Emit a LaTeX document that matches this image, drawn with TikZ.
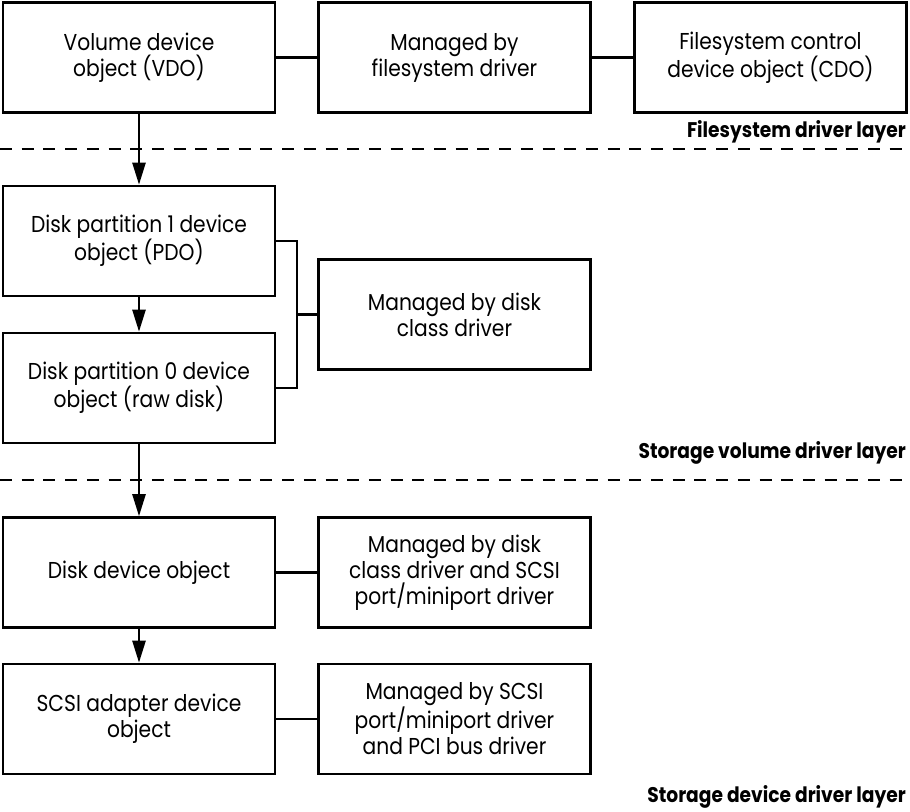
\documentclass[tikz,border=0pt]{standalone}
\usepackage{fontspec}
\setmainfont[FakeStretch=0.88]{Poppins}
\usetikzlibrary{arrows.meta}
\begin{document}
\begin{tikzpicture}[x=1pt,y=-1pt,
  box/.style={draw, line width=2.6pt, minimum width=272pt, minimum height=110pt,
    align=center, inner sep=0pt, font=\fontsize{23}{26}\selectfont},
  link/.style={line width=2.2pt},
  arr/.style={line width=2.4pt, -{Triangle[length=22pt,width=13pt]}},
  layer/.style={anchor=base east, inner sep=0pt, font=\fontsize{21.2}{24}\selectfont\bfseries},
  sep/.style={line width=2.6pt, dash pattern=on 12pt off 9.7pt}]
\useasboundingbox (0,0) rectangle (910,811);

% row 1
\node[box] (vdo) at (139,57.5) {Volume device\\object (VDO)};
\node[box] (fsd) at (454.5,57.5) {Managed by\\filesystem driver};
\node[box] (cdo) at (770.5,57.5) {Filesystem control\\device object (CDO)};
\draw[link] (vdo) -- (fsd);
\draw[link] (fsd) -- (cdo);
\node[layer] (l1) at (906,137) {Filesystem driver layer};
\draw[sep] (0,149) -- (910,149);

% storage volume layer
\node[box] (pdo) at (139,241) {Disk partition 1 device\\object (PDO)};
\node[box] (raw) at (139,388) {Disk partition 0 device\\object (raw disk)};
\node[box] (dcd) at (454.5,314.5) {Managed by disk\\class driver};
\coordinate (bx) at (297,314.5);
\draw[link] (pdo.east) -| (bx) |- (raw.east);
\draw[link] (bx) -- (dcd.west);
\draw[arr] (vdo) -- (pdo);
\draw[arr] (pdo) -- (raw);
\node[layer] (l2) at (906,458) {Storage volume driver layer};
\draw[sep] (0,480) -- (910,480);

% storage device layer
\node[box] (ddo) at (139,572.5) {Disk device object};
\node[box] (dcs) at (454.5,572.5) {Managed by disk\\class driver and SCSI\\port/miniport driver};
\node[box] (sad) at (139,719) {SCSI adapter device\\object};
\node[box] (spd) at (454.5,719) {Managed by SCSI\\port/miniport driver\\and PCI bus driver};
\draw[link] (ddo) -- (dcs);
\draw[link] (sad) -- (spd);
\draw[arr] (raw) -- (ddo);
\draw[arr] (ddo) -- (sad);
\node[layer] (l3) at (906,802) {Storage device driver layer};
\end{tikzpicture}
\end{document}
